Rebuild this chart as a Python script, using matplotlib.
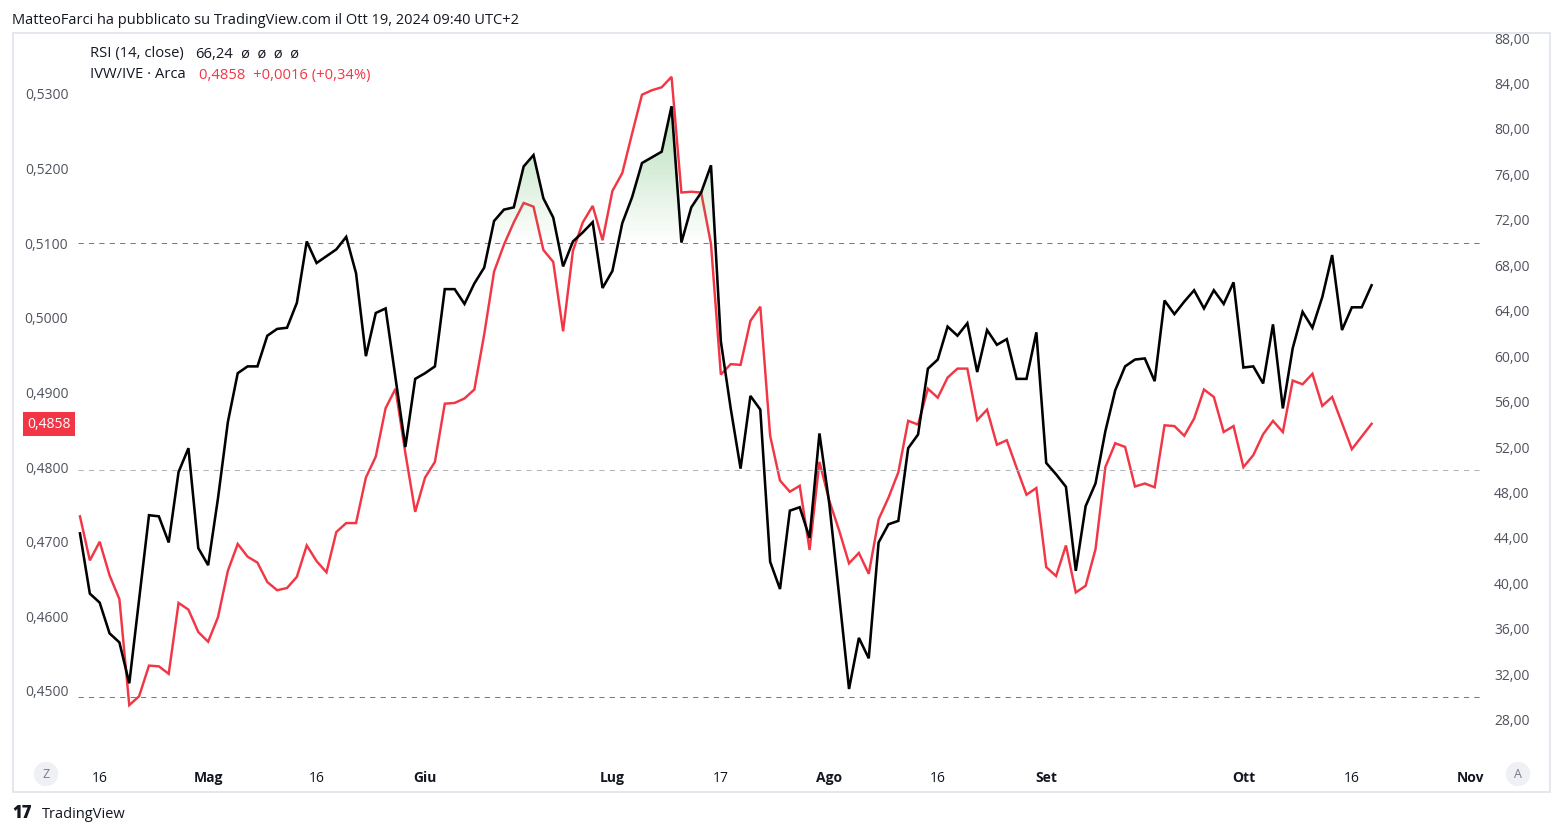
import numpy as np
import pandas as pd
import matplotlib
matplotlib.use("Agg")
import matplotlib.pyplot as plt
from matplotlib.colors import LinearSegmentedColormap
from matplotlib.patches import Rectangle
from matplotlib.path import Path

plt.rcParams["font.family"] = ["Open Sans", "DejaVu Sans"]

# RSI(14) del rapporto IVW/IVE, barre giornaliere 12 apr -> 18 ott 2024
rsi = [44.4, 39.1, 38.3, 35.6, 34.8, 31.2, 38.6, 46.0, 45.9, 43.6,
       49.8, 51.9, 43.1, 41.6, 47.5, 54.2, 58.5, 59.1, 59.1, 61.8,
       62.4, 62.5, 64.7, 70.1, 68.2, 68.8, 69.4, 70.5, 67.3, 60.0,
       63.8, 64.2, 58.1, 52.0, 58.0, 58.5, 59.1, 65.9, 65.9, 64.6,
       66.4, 67.8, 71.9, 72.9, 73.1, 76.7, 77.7, 73.9, 72.2, 67.9,
       70.1, 70.9, 71.8, 66.0, 67.5, 71.7, 74.0, 77.0, 77.5, 78.0,
       82.0, 70.0, 73.1, 74.4, 76.8, 61.3, 55.4, 50.1, 56.5, 55.3,
       41.9, 39.5, 46.4, 46.7, 44.0, 53.2, 47.0, 38.9, 30.7, 35.2,
       33.4, 43.6, 45.2, 45.5, 51.9, 53.1, 58.9, 59.7, 62.6, 61.8,
       62.9, 58.6, 62.3, 61.0, 61.5, 58.0, 58.0, 62.1, 50.6, 49.6,
       48.5, 41.1, 46.8, 48.8, 53.4, 57.0, 59.1, 59.7, 59.8, 57.8,
       64.9, 63.7, 64.8, 65.8, 64.2, 65.8, 64.6, 66.5, 59.0, 59.1,
       57.6, 62.8, 55.4, 60.7, 63.9, 62.5, 65.2, 68.9, 62.3, 64.3,
       64.3, 66.24]

# rapporto IVW/IVE (chiusura)
price = [0.4734, 0.4675, 0.4700, 0.4655, 0.4623, 0.4481, 0.4493, 0.4534, 0.4533, 0.4523,
         0.4618, 0.4609, 0.4579, 0.4566, 0.4599, 0.4661, 0.4697, 0.4680, 0.4672, 0.4646,
         0.4635, 0.4638, 0.4653, 0.4695, 0.4674, 0.4659, 0.4713, 0.4725, 0.4725, 0.4786,
         0.4814, 0.4879, 0.4905, 0.4819, 0.4740, 0.4786, 0.4807, 0.4885, 0.4886, 0.4892,
         0.4904, 0.4978, 0.5062, 0.5098, 0.5128, 0.5154, 0.5149, 0.5091, 0.5075, 0.4982,
         0.5090, 0.5128, 0.5150, 0.5104, 0.5170, 0.5194, 0.5247, 0.5299, 0.5305, 0.5309,
         0.5323, 0.5168, 0.5169, 0.5168, 0.5099, 0.4924, 0.4938, 0.4937, 0.4996, 0.5015,
         0.4842, 0.4782, 0.4767, 0.4775, 0.4689, 0.4807, 0.4755, 0.4715, 0.4671, 0.4685,
         0.4657, 0.4730, 0.4759, 0.4793, 0.4862, 0.4857, 0.4905, 0.4893, 0.4920, 0.4932,
         0.4932, 0.4863, 0.4877, 0.4830, 0.4836, 0.4799, 0.4763, 0.4772, 0.4666, 0.4654,
         0.4695, 0.4632, 0.4641, 0.4690, 0.4800, 0.4832, 0.4827, 0.4774, 0.4778, 0.4773,
         0.4856, 0.4855, 0.4842, 0.4865, 0.4904, 0.4894, 0.4847, 0.4855, 0.4800, 0.4816,
         0.4844, 0.4862, 0.4847, 0.4916, 0.4911, 0.4925, 0.4882, 0.4894, 0.4859, 0.4824,
         0.4841, 0.4858]

holidays = ["2024-05-27", "2024-06-19", "2024-07-04", "2024-09-02"]
tick_dates = ["2024-04-16", "2024-05-01", "2024-05-16", "2024-06-03", "2024-07-01", "2024-07-17",
              "2024-08-01", "2024-08-16", "2024-09-03", "2024-10-01", "2024-10-16", "2024-11-01"]
tick_labels = ["16", "Mag", "16", "Giu", "Lug", "17", "Ago", "16", "Set", "Ott", "16", "Nov"]
price_ticks = [0.45, 0.46, 0.47, 0.48, 0.49, 0.50, 0.51, 0.52, 0.53]
rsi_ticks = [28, 32, 36, 40, 44, 48, 52, 56, 60, 64, 68, 72, 76, 80, 84, 88]
rsi_bands = [70, 50, 30]

RED = "#f23645"
TXT = "#131722"
AX_TXT = "#50535e"

# giorni di borsa (asse senza buchi, stile TradingView)
days = pd.bdate_range("2024-04-12", "2024-11-01")
days = days[~days.isin(pd.to_datetime(holidays))]
x = np.arange(len(rsi))
tick_pos = [days.get_loc(pd.Timestamp(d)) for d in tick_dates]

W, H = 1563, 836
fig = plt.figure(figsize=(W / 100, H / 100), dpi=100)
fig.patch.set_facecolor("white")

ax = fig.add_axes([78 / W, 1 - 760 / H, (1483 - 78) / W, (760 - 34) / H])
ax2 = ax.twinx()

ax.plot(x, price, color=RED, lw=1.75, solid_joinstyle="miter", zorder=3)
ax2.plot(x, rsi, color="black", lw=1.85, solid_joinstyle="miter", zorder=4)

for lvl in rsi_bands:
    col = "#b2b5be" if lvl == 50 else "#787b86"
    ax2.axhline(lvl, color=col, lw=0.75, ls=(0, (5, 5)), zorder=1)

# riempimento a gradiente sopra 70
r = np.array(rsi)
fb = ax2.fill_between(x, r, 70, where=r > 70, interpolate=True, color="none", lw=0)
clip = Path.make_compound_path(*fb.get_paths())
green = LinearSegmentedColormap.from_list(
    "g", [(0.298, 0.686, 0.314, 0.0), (0.298, 0.686, 0.314, 0.42)])
grad = np.linspace(0, 1, 256).reshape(-1, 1)
img = ax2.imshow(grad, extent=[x[0], x[-1], 70, r.max()], origin="lower",
                 aspect="auto", cmap=green, zorder=2)
img.set_clip_path(clip, transform=ax2.transData)

ax.set_xlim(-0.2, 142.3)
ax.set_ylim(0.44075, 0.53804)
ax2.set_ylim(24.45, 88.36)

ax.set_yticks(price_ticks)
ax.set_yticklabels([f"{v:.4f}".replace(".", ",") for v in price_ticks])
ax2.set_yticks(rsi_ticks)
ax2.set_yticklabels([f"{v:.2f}".replace(".", ",") for v in rsi_ticks])
ax.set_xticks(tick_pos)
ax.set_xticklabels(tick_labels)
for lab, txt in zip(ax.get_xticklabels(), tick_labels):
    if not txt.isdigit():
        lab.set_fontweight("bold")

ax.tick_params(axis="y", length=0, pad=7, labelsize=10, labelcolor=AX_TXT)
ax2.tick_params(axis="y", length=0, pad=8, labelsize=10, labelcolor=AX_TXT)
ax.tick_params(axis="x", length=0, pad=8, labelsize=10, labelcolor=TXT)
for a in (ax, ax2):
    for s in a.spines.values():
        s.set_visible(False)

# cornice del grafico
fig.add_artist(Rectangle((13 / W, 1 - 792 / H), (1550 - 13) / W, (792 - 33) / H,
                         transform=fig.transFigure, fill=False, ec="#e0e3eb", lw=1.2))

# etichetta ultimo prezzo
fig.text(49 / W, 1 - 424 / H, "0,4858", ha="center", va="center", color="white", fontsize=10,
         bbox=dict(boxstyle="square,pad=0.3", fc=RED, ec="none"))

fig.text(12 / W, 1 - 20 / H, "MatteoFarci ha pubblicato su TradingView.com il Ott 19, 2024 09:40 UTC+2",
         ha="left", va="center", fontsize=10.5, color=TXT)
fig.text(90 / W, 1 - 54 / H, "RSI (14, close)", ha="left", va="center", fontsize=10.6, color=TXT)
fig.text(195 / W, 1 - 54 / H, "66,24", ha="left", va="center", fontsize=10.6, color=TXT)
fig.text(241 / W, 1 - 54 / H, "\u00f8  \u00f8  \u00f8  \u00f8", ha="left", va="center", fontsize=10.5, color=TXT)
fig.text(90 / W, 1 - 75 / H, "IVW/IVE \u00b7 Arca", ha="left", va="center", fontsize=10.6, color=TXT)
fig.text(199 / W, 1 - 75 / H, "0,4858  +0,0016 (+0,34%)", ha="left", va="center", fontsize=10.6, color=RED)

for xx, letter in ((46, "Z"), (1518, "A")):
    fig.text(xx / W, 1 - 774 / H, letter, ha="center", va="center", fontsize=9, color="#787b86",
             bbox=dict(boxstyle="circle,pad=0.45", fc="#eef0f5", ec="none"))

fig.text(12 / W, 1 - 814 / H, "17", ha="left", va="center", fontsize=12, fontweight="heavy", color=TXT)
fig.text(42 / W, 1 - 814 / H, "TradingView", ha="left", va="center", fontsize=10.5, color=TXT)

fig.savefig("out.png", dpi=100)
